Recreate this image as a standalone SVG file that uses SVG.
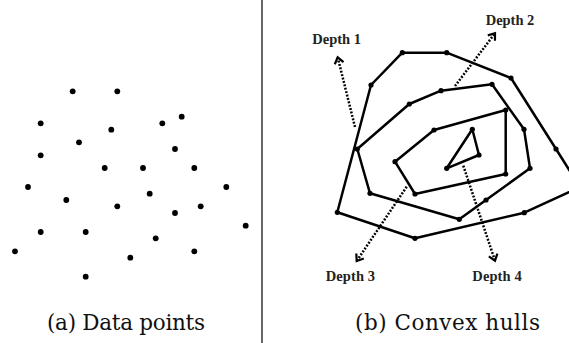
<svg xmlns="http://www.w3.org/2000/svg" width="569" height="343" viewBox="0 0 569 343">
<defs>
<style>
.pt{fill:#000}
.hull{fill:none;stroke:#000;stroke-width:2.5;stroke-linejoin:round}
.arr{fill:none;stroke:#000;stroke-width:2.5;stroke-dasharray:1.9 1.6}
.lbl{font-family:"Liberation Serif","Times New Roman",serif;font-weight:bold;font-size:14.5px;fill:#222}
.cap{font-family:"DejaVu Serif","Liberation Serif",serif;font-size:21.5px;fill:#111}
</style>
<marker id="ah" viewBox="-8 -6 10 12" markerWidth="10" markerHeight="12" refX="0" refY="0" orient="auto" markerUnits="userSpaceOnUse">
<path d="M-6,-4.5 L0,0 L-6,4.5" fill="none" stroke="#000" stroke-width="2.2"/>
</marker>
</defs>
<rect width="569" height="343" fill="#fff"/>
<line x1="262" y1="0" x2="262" y2="343" stroke="#000" stroke-width="1.2"/>
<g id="data-points">
<circle class="pt" r="2.9" cx="72.7" cy="91.3"/>
<circle class="pt" r="2.9" cx="117.3" cy="91.3"/>
<circle class="pt" r="2.9" cx="40.7" cy="123.3"/>
<circle class="pt" r="2.9" cx="162.3" cy="123.3"/>
<circle class="pt" r="2.9" cx="181.7" cy="116.7"/>
<circle class="pt" r="2.9" cx="111.3" cy="129.7"/>
<circle class="pt" r="2.9" cx="79" cy="142.3"/>
<circle class="pt" r="2.9" cx="175" cy="149"/>
<circle class="pt" r="2.9" cx="40.7" cy="155.3"/>
<circle class="pt" r="2.9" cx="104.7" cy="168"/>
<circle class="pt" r="2.9" cx="143" cy="168"/>
<circle class="pt" r="2.9" cx="194.3" cy="168"/>
<circle class="pt" r="2.9" cx="28" cy="187"/>
<circle class="pt" r="2.9" cx="226.3" cy="187"/>
<circle class="pt" r="2.9" cx="66.3" cy="200"/>
<circle class="pt" r="2.9" cx="149.7" cy="193.7"/>
<circle class="pt" r="2.9" cx="117.3" cy="206.3"/>
<circle class="pt" r="2.9" cx="200.7" cy="206.3"/>
<circle class="pt" r="2.9" cx="175" cy="213"/>
<circle class="pt" r="2.9" cx="245.7" cy="225.7"/>
<circle class="pt" r="2.9" cx="40.7" cy="232"/>
<circle class="pt" r="2.9" cx="85.7" cy="232"/>
<circle class="pt" r="2.9" cx="155.7" cy="238.3"/>
<circle class="pt" r="2.9" cx="15" cy="251.3"/>
<circle class="pt" r="2.9" cx="194.3" cy="251.3"/>
<circle class="pt" r="2.9" cx="130.3" cy="257.7"/>
<circle class="pt" r="2.9" cx="85.7" cy="276.7"/>
</g>
<g id="hull-depth1">
<polygon class="hull" points="337.3,212.3 371,85 402.3,52.7 446.7,52.7 511,78 556,149 580,187 524.3,212.7 415,238.3"/>
<circle class="pt" r="2.6" cx="337.3" cy="212.3"/>
<circle class="pt" r="2.6" cx="371" cy="85"/>
<circle class="pt" r="2.6" cx="402.3" cy="52.7"/>
<circle class="pt" r="2.6" cx="446.7" cy="52.7"/>
<circle class="pt" r="2.6" cx="511" cy="78"/>
<circle class="pt" r="2.6" cx="556" cy="149"/>
<circle class="pt" r="2.6" cx="524.3" cy="212.7"/>
<circle class="pt" r="2.6" cx="415" cy="238.3"/>
</g>
<g id="hull-depth2">
<polygon class="hull" points="357.3,149 409.3,104 441,90.7 492,84.3 524,129.3 530,168.3 486,200 459.3,219.3 370,193.3"/>
<circle class="pt" r="2.6" cx="357.3" cy="149"/>
<circle class="pt" r="2.6" cx="409.3" cy="104"/>
<circle class="pt" r="2.6" cx="441" cy="90.7"/>
<circle class="pt" r="2.6" cx="492" cy="84.3"/>
<circle class="pt" r="2.6" cx="524" cy="129.3"/>
<circle class="pt" r="2.6" cx="530" cy="168.3"/>
<circle class="pt" r="2.6" cx="486" cy="200"/>
<circle class="pt" r="2.6" cx="459.3" cy="219.3"/>
<circle class="pt" r="2.6" cx="370" cy="193.3"/>
</g>
<g id="hull-depth3">
<polygon class="hull" points="395,161.7 434,130 505.7,110 505.7,174 415,194"/>
<circle class="pt" r="2.6" cx="395" cy="161.7"/>
<circle class="pt" r="2.6" cx="434" cy="130"/>
<circle class="pt" r="2.6" cx="505.7" cy="110"/>
<circle class="pt" r="2.6" cx="505.7" cy="174"/>
<circle class="pt" r="2.6" cx="415" cy="194"/>
</g>
<g id="hull-depth4">
<polygon class="hull" points="472.3,129.3 479,155 446.7,168.3"/>
<circle class="pt" r="2.6" cx="472.3" cy="129.3"/>
<circle class="pt" r="2.6" cx="479" cy="155"/>
<circle class="pt" r="2.6" cx="446.7" cy="168.3"/>
</g>
<g id="connectors">
<line class="arr" x1="355" y1="127" x2="337.7" y2="57.3" marker-end="url(#ah)"/>
<line class="arr" x1="455" y1="86" x2="495" y2="33.3" marker-end="url(#ah)"/>
<line class="arr" x1="406.7" y1="186.7" x2="356.7" y2="261" marker-end="url(#ah)"/>
<line class="arr" x1="463.3" y1="165.7" x2="495" y2="260.7" marker-end="url(#ah)"/>
</g>
<g id="labels">
<text class="lbl" x="312.3" y="44" textLength="48.7">Depth 1</text>
<text class="lbl" x="485.7" y="25" textLength="48.6">Depth 2</text>
<text class="lbl" x="325.7" y="280.7" textLength="49.3">Depth 3</text>
<text class="lbl" x="472.3" y="280.7" textLength="49.4">Depth 4</text>
</g>
<g id="captions">
<text class="cap" x="47" y="330" textLength="158">(a) Data points</text>
<text class="cap" x="355" y="330" textLength="185">(b) Convex hulls</text>
</g>
</svg>
